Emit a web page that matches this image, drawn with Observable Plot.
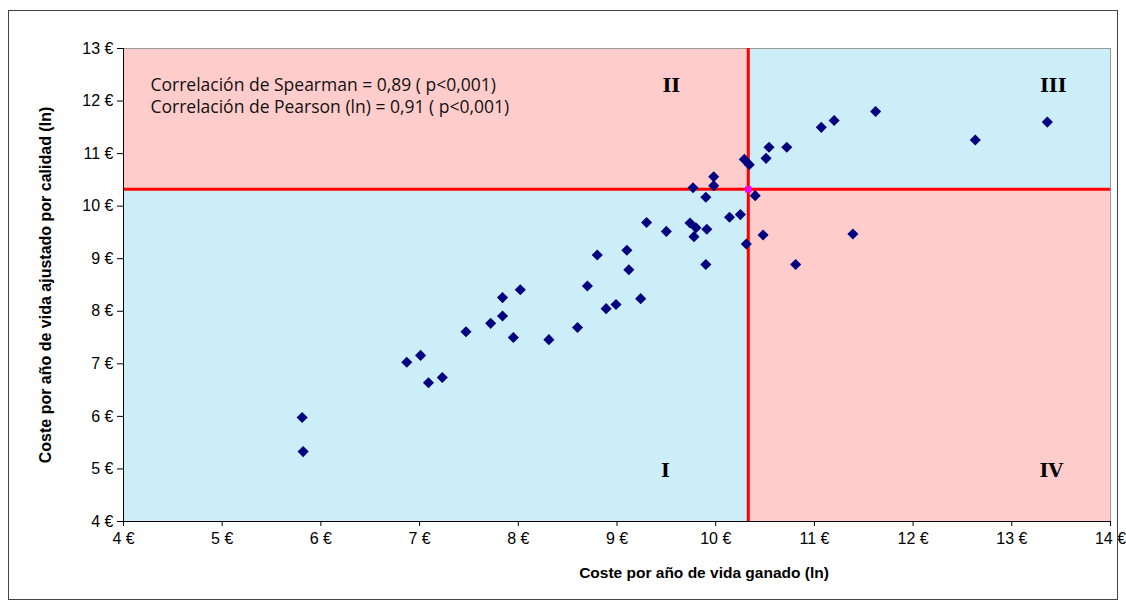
<!DOCTYPE html>
<html>
<head>
<meta charset="utf-8">
<script src="https://cdn.jsdelivr.net/npm/d3@7"></script>
<script src="https://cdn.jsdelivr.net/npm/@observablehq/plot@0.6"></script>
<style>
  html, body { margin: 0; padding: 0; background: #fff; }
  #wrap { position: relative; width: 1126px; height: 610px; }
  #border { position: absolute; left: 8px; top: 10px; width: 1110px; height: 590px; border: 1px solid #444; box-sizing: border-box; pointer-events: none; }
  #chart { position: absolute; left: 0; top: 0; }
</style>
</head>
<body>
<div id="wrap"><div id="chart"></div><div id="border"></div></div>
<script>
// Data
const costeVidaGanado = [5.81,5.82,6.87,7.01,7.09,7.23,7.47,7.72,7.84,7.84,8.02,7.95,8.31,8.60,8.70,8.80,8.89,8.99,9.10,9.12,9.24,9.30,9.50,9.74,9.80,9.78,9.91,9.90,9.77,9.90,9.98,9.98,10.14,10.25,10.31,10.29,10.34,10.40,10.48,10.51,10.54,10.72,10.81,11.39,11.07,11.20,11.62,12.63,13.36];
const costeAjustadoCalidad = [5.98,5.33,7.03,7.16,6.64,6.74,7.61,7.77,8.26,7.91,8.41,7.50,7.46,7.69,8.48,9.07,8.05,8.13,9.16,8.79,8.24,9.69,9.52,9.68,9.59,9.42,9.56,8.89,10.35,10.17,10.56,10.39,9.79,9.84,9.28,10.89,10.79,10.20,9.45,10.91,11.12,11.12,8.89,9.47,11.50,11.63,11.80,11.26,11.60];
const umbralX = 10.33;
const umbralY = 10.32;
const xTicks = [4,5,6,7,8,9,10,11,12,13,14];
const yTicks = [4,5,6,7,8,9,10,11,12,13];
const quadrantNames = ["I","II","III","IV"];
const quadrantLabelX = [9.49, 9.55, 13.42, 13.40];
const quadrantLabelY = [4.97, 12.28, 12.28, 4.97];
const annotation = ["Correlación de Spearman = 0,89 ( p<0,001)", "Correlación de Pearson (ln) = 0,91 ( p<0,001)"];
const xTitle = "Coste por año de vida ganado (ln)";
const yTitle = "Coste por año de vida ajustado por calidad (ln)";

const points = costeVidaGanado.map((x, i) => ({x, y: costeAjustadoCalidad[i]}));
const x0 = xTicks[0], x1 = xTicks[xTicks.length - 1];
const y0 = yTicks[0], y1 = yTicks[yTicks.length - 1];
const BLUE = "#CCEEF9", PINK = "#FFCCCC";
const quadrants = [
  {x1: x0, x2: umbralX, y1: y0, y2: umbralY, fill: BLUE},
  {x1: x0, x2: umbralX, y1: umbralY, y2: y1, fill: PINK},
  {x1: umbralX, x2: x1, y1: umbralY, y2: y1, fill: BLUE},
  {x1: umbralX, x2: x1, y1: y0, y2: umbralY, fill: PINK}
];
const qLabels = quadrantNames.map((t, i) => ({t, x: quadrantLabelX[i], y: quadrantLabelY[i]}));
const fmt = d => d + " €";
const SANS = "'Liberation Sans', Arial, sans-serif";

const chart = Plot.plot({
  width: 1126, height: 610,
  marginLeft: 123, marginRight: 16, marginTop: 48, marginBottom: 89,
  x: {domain: [x0, x1]},
  y: {domain: [y0, y1]},
  style: {fontFamily: SANS, fontSize: "16px", background: "transparent", color: "#000"},
  marks: [
    Plot.rect(quadrants, {x1: "x1", x2: "x2", y1: "y1", y2: "y2", fill: d => d.fill}),
    Plot.frame({stroke: "#999", strokeWidth: 1}),
    Plot.ruleX([umbralX], {stroke: "#FF0000", strokeWidth: 3}),
    Plot.ruleY([umbralY], {stroke: "#FF0000", strokeWidth: 3}),
    Plot.ruleX([x0], {stroke: "#000", strokeWidth: 1}),
    Plot.ruleY([y0], {stroke: "#000", strokeWidth: 1}),
    Plot.axisX({ticks: xTicks, tickFormat: fmt, tickSize: 5, tickPadding: 6, label: null, fontSize: 16, fontFamily: SANS}),
    Plot.axisY({ticks: yTicks, tickFormat: fmt, tickSize: 6, tickPadding: 4, label: null, fontSize: 16, fontFamily: SANS}),
    Plot.dot(points, {x: "x", y: "y", symbol: "diamond2", r: 5, fill: "#000080", stroke: "none"}),
    Plot.dot([{x: umbralX, y: umbralY}], {x: "x", y: "y", symbol: "square", r: 3.6, fill: "#FF00FF", stroke: "none"}),
    Plot.text(qLabels, {x: "x", y: "y", text: "t", fontFamily: "'DejaVu Serif', serif", fontWeight: "bold", fontSize: 19, fill: "#000"}),
    Plot.text([annotation.join("\n")], {frameAnchor: "top-left", dx: 27, dy: 27, lineHeight: 1.26, fontFamily: "'Open Sans', Lato, sans-serif", fontSize: 17.5, fill: "#111", textAnchor: "start", lineAnchor: "top"}),
    Plot.text([xTitle], {frameAnchor: "bottom", dx: 87, dy: 56, fontWeight: "bold", fontSize: 15.5, fontFamily: SANS, fill: "#000"}),
    Plot.text([yTitle], {frameAnchor: "left", dx: -78, rotate: -90, textAnchor: "middle", fontWeight: "bold", fontSize: 16, fontFamily: SANS, fill: "#000"})
  ]
});
document.getElementById("chart").appendChild(chart);
</script>
</body>
</html>
